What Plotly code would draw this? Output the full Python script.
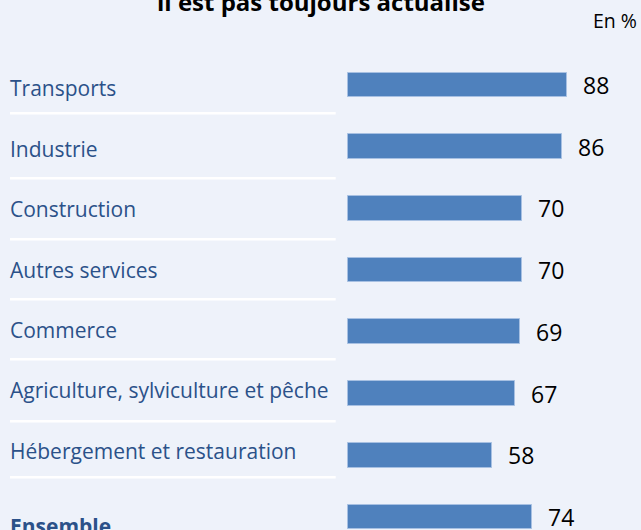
import plotly.graph_objects as go

# ---- data ----
categories = ["Transports", "Industrie", "Construction", "Autres services", "Commerce",
              "Agriculture, sylviculture et pêche", "Hébergement et restauration", "Ensemble"]
values = [88, 86, 70, 70, 69, 67, 58, 74]
title_text = "il est pas toujours actualisé"
unit_text = "En %"

# ---- layout constants (pixels) ----
W, H = 641, 530
BG = "#EEF2FA"
BAR = "#4F81BD"
LABEL = "#2B5189"
x0_px, px_per_unit = 348.3, 2.482
y0_px, row_px = 85.0, 61.7

xr = [-x0_px / px_per_unit, (W - x0_px) / px_per_unit]
yr = [(H - y0_px) / row_px, -y0_px / row_px]

def ydata(py):
    return (py - y0_px) / row_px

idx = list(range(len(categories)))

fig = go.Figure()
fig.add_trace(go.Bar(
    x=values, y=idx, orientation="h", width=24.7 / row_px,
    marker=dict(color=BAR, line=dict(color="#A7C0E2", width=1)),
    hoverinfo="skip", showlegend=False,
))

annotations = []
# value labels
for i, v in zip(idx, values):
    annotations.append(dict(x=v, y=i, xref="x", yref="y", text=str(v), showarrow=False,
                            xanchor="left", yanchor="middle", xshift=14, yshift=0,
                            font=dict(family="Open Sans", size=23, color="#000000")))
# category labels
for i, c in zip(idx, categories):
    py = 88.3 + 60.4 * i + (15 if c == "Ensemble" else 0)
    txt = "<b>%s</b>" % c if c == "Ensemble" else c
    annotations.append(dict(x=10 / W, y=ydata(py), xref="paper", yref="y", text=txt,
                            showarrow=False, xanchor="left", yanchor="middle", xshift=-2,
                            font=dict(family="Open Sans", size=21, color=LABEL)))
# title (cut at top) and unit
annotations.append(dict(x=0.5, y=1, xref="paper", yref="paper", text="<b>%s</b>" % title_text,
                        showarrow=False, xanchor="center", yanchor="bottom", yshift=-20.5,
                        font=dict(family="Open Sans", size=24, color="#000000")))
annotations.append(dict(x=1, y=1, xref="paper", yref="paper", text=unit_text,
                        showarrow=False, xanchor="right", yanchor="top", yshift=-5, xshift=-2,
                        font=dict(family="Open Sans", size=19.5, color="#000000")))

# separators
sep_px = [113.3, 178.3, 239.3, 299.3, 359.3, 421.3, 477.3]
shapes = [dict(type="line", xref="paper", yref="y", x0=10 / W, x1=335.7 / W,
               y0=ydata(p), y1=ydata(p), line=dict(color="#FFFFFF", width=2.5))
          for p in sep_px]

fig.update_layout(
    width=W, height=H, margin=dict(l=0, r=0, t=0, b=0),
    paper_bgcolor=BG, plot_bgcolor=BG,
    xaxis=dict(range=xr, visible=False, fixedrange=True),
    yaxis=dict(range=yr, visible=False, fixedrange=True),
    annotations=annotations, shapes=shapes, bargap=0,
)
fig.write_html("out.html", config={"displayModeBar": False},
               post_script="document.body.style.margin='0';document.body.style.overflow='hidden';")
